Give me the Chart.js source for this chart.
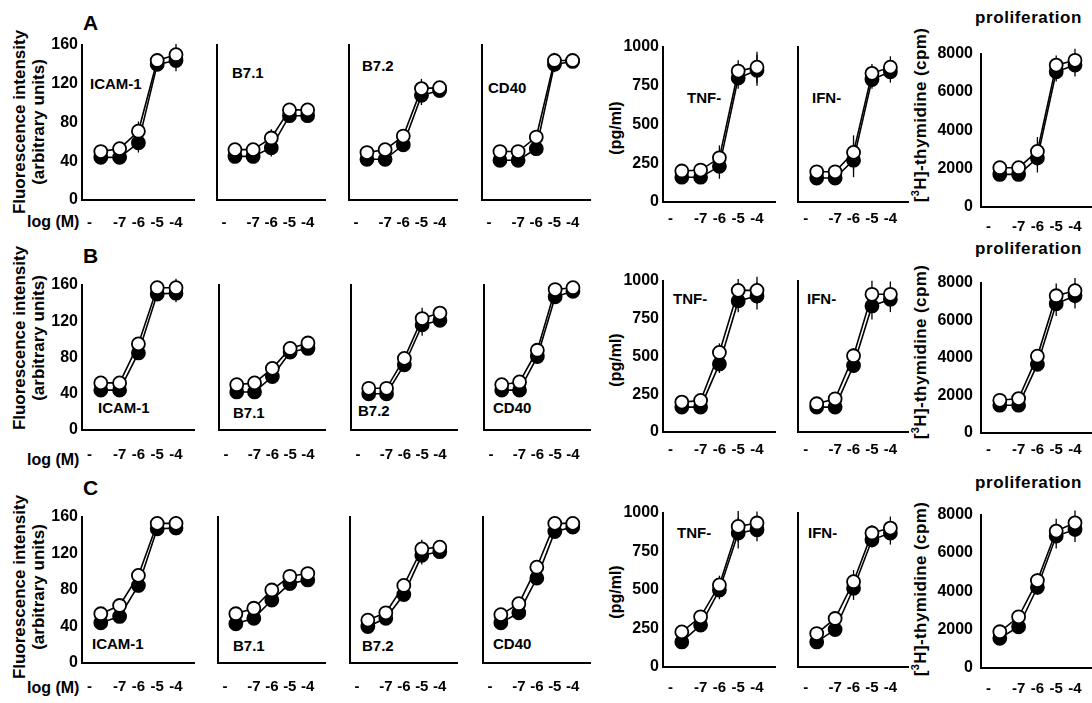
<!DOCTYPE html>
<html>
<head>
<meta charset="utf-8">
<script src="https://cdn.jsdelivr.net/npm/chart.js@4.4.1/dist/chart.umd.min.js"></script>
<style>
html, body { margin: 0; padding: 0; background: #fff; overflow: hidden; }
#fig { position: relative; width: 1092px; height: 703px; overflow: hidden; background: #fff;
       font-family: "Liberation Sans", Arial, Helvetica, sans-serif; font-weight: bold; color: #000; }
#fig canvas { position: absolute; }
.t { position: absolute; white-space: nowrap; line-height: 1; transform: translateY(-50%); }
.rot { position: absolute; white-space: nowrap; text-align: center; line-height: 19px;
       transform: translate(-50%, -50%) rotate(-90deg); }
</style>
</head>
<body>
<div id="fig"></div>
<script>
// Dose-response panels: 3 rows (A, B, C) x 7 readouts, open vs filled circles.
// x = log(M); the "-" (no compound) point sits at -8.

var X_DOSE = [-8, -7, -6, -5, -4];
var X_TICK_AT = [-8.6, -7, -6, -5, -4];
var X_TICK_TEXT = ["-", "-7", "-6", "-5", "-4"];

// ---- row A ----
var ICAM1_A_open = [50, 53, 71, 144, 150];
var ICAM1_A_closed = [44, 44, 59, 140, 144];
var ICAM1_A_err = [3, 3, 10, 5, 11];
var B71_A_open = [52, 52, 64, 93, 93];
var B71_A_closed = [45, 45, 54, 87, 87];
var B71_A_err = [3, 3, 9, 4, 3];
var B72_A_open = [49, 52, 66, 115, 116];
var B72_A_closed = [42, 42, 57, 108, 113];
var B72_A_err = [3, 3, 4, 10, 3];
var CD40_A_open = [50, 50, 65, 144, 144];
var CD40_A_closed = [41, 41, 53, 140, 143];
var CD40_A_err = [3, 3, 4, 8, 3];
var TNF_A_open = [200, 206, 285, 845, 870];
var TNF_A_closed = [160, 160, 230, 800, 850];
var TNF_A_err = [15, 15, 80, 70, 100];
var IFN_A_open = [195, 195, 320, 830, 870];
var IFN_A_closed = [155, 155, 270, 790, 840];
var IFN_A_err = [15, 15, 110, 60, 70];
var PROL_A_open = [2050, 2050, 2900, 7400, 7650];
var PROL_A_closed = [1700, 1700, 2550, 7050, 7400];
var PROL_A_err = [100, 100, 750, 500, 600];

// ---- row B ----
var ICAM1_B_open = [52, 52, 95, 157, 157];
var ICAM1_B_closed = [44, 44, 85, 150, 151];
var ICAM1_B_err = [3, 3, 4, 5, 10];
var B71_B_open = [50, 52, 68, 90, 96];
var B71_B_closed = [42, 42, 59, 86, 90];
var B71_B_err = [3, 3, 3, 3, 3];
var B72_B_open = [46, 46, 79, 123, 129];
var B72_B_closed = [40, 40, 72, 116, 121];
var B72_B_err = [3, 3, 3, 12, 4];
var CD40_B_open = [50, 53, 88, 155, 157];
var CD40_B_closed = [44, 44, 81, 147, 153];
var CD40_B_err = [3, 3, 3, 3, 3];
var TNF_B_open = [198, 209, 527, 938, 938];
var TNF_B_closed = [165, 165, 451, 868, 901];
var TNF_B_err = [15, 15, 60, 75, 90];
var IFN_B_open = [187, 220, 505, 912, 912];
var IFN_B_closed = [165, 165, 440, 835, 879];
var IFN_B_err = [15, 15, 50, 90, 85];
var PROL_B_open = [1740, 1830, 4090, 7300, 7570];
var PROL_B_closed = [1480, 1480, 3650, 6870, 7300];
var PROL_B_err = [100, 100, 300, 650, 680];

// ---- row C ----
var ICAM1_C_open = [54, 63, 96, 153, 153];
var ICAM1_C_closed = [44, 51, 85, 147, 148];
var ICAM1_C_err = [3, 3, 8, 4, 8];
var B71_C_open = [54, 60, 80, 95, 98];
var B71_C_closed = [43, 49, 69, 87, 91];
var B71_C_err = [3, 3, 3, 3, 3];
var B72_C_open = [47, 55, 85, 125, 127];
var B72_C_closed = [40, 49, 75, 118, 122];
var B72_C_err = [3, 3, 3, 10, 4];
var CD40_C_open = [53, 65, 105, 153, 153];
var CD40_C_closed = [44, 55, 93, 144, 149];
var CD40_C_err = [3, 3, 3, 3, 2];
var TNF_C_open = [228, 326, 533, 913, 935];
var TNF_C_closed = [163, 272, 500, 870, 891];
var TNF_C_err = [15, 15, 60, 100, 75];
var IFN_C_open = [217, 315, 554, 870, 902];
var IFN_C_closed = [163, 243, 511, 826, 870];
var IFN_C_err = [15, 15, 75, 50, 75];
var PROL_C_open = [1890, 2670, 4560, 7140, 7570];
var PROL_C_closed = [1550, 2150, 4210, 6880, 7220];
var PROL_C_err = [100, 100, 400, 650, 650];

// y ranges per readout group: surface markers, cytokines, proliferation
var GROUPS = {
  L: { max: 160, step: 40, pad: 4 },
  R: { max: 1000, step: 250, pad: 4 },
  P: { max: 8000, step: 2000, pad: 8 }
};
var COL_X = [82, 213, 345, 478, 663, 796, 981]; // y-axis line of each column
var PLOT_W = 112;
// [plot top, plot bottom (value 0), x tick padding] per row and group
var ROW_GEOM = {
  A: { L: [45, 200, 14], R: [47, 202, 8], P: [52, 207, 11] },
  B: { L: [285, 430, 16], R: [281, 432, 9], P: [281, 433, 8] },
  C: { L: [517, 663, 15], R: [513, 667, 12], P: [513, 668, 12] }
};
var FONT = "'Liberation Sans', Arial, Helvetica, sans-serif";

var fig = document.getElementById("fig");

function addText(cls, html, x, y, css) {
  var d = document.createElement("div");
  d.className = cls;
  d.innerHTML = html;
  d.style.left = x + "px";
  d.style.top = y + "px";
  if (css) d.style.cssText += css;
  fig.appendChild(d);
}

// whiskers drawn under the markers
var errorBars = {
  id: "errorBars",
  beforeDatasetsDraw: function (chart) {
    var ctx = chart.ctx, ys = chart.scales.y;
    ctx.save();
    ctx.strokeStyle = "#000";
    ctx.lineWidth = 1.3;
    chart.data.datasets.forEach(function (ds, i) {
      if (!ds.errors) return;
      chart.getDatasetMeta(i).data.forEach(function (pt, j) {
        var v = ds.data[j].y, e = ds.errors[j];
        ctx.beginPath();
        ctx.moveTo(pt.x, ys.getPixelForValue(v - e));
        ctx.lineTo(pt.x, ys.getPixelForValue(v + e));
        ctx.stroke();
      });
    });
    ctx.restore();
  }
};

function series(vals, fill, err) {
  return {
    data: X_DOSE.map(function (x, i) { return { x: x, y: vals[i] }; }),
    borderColor: "#000", borderWidth: 1.6, tension: 0,
    pointRadius: 6.5, pointBorderWidth: 1.8,
    pointBackgroundColor: fill, pointBorderColor: "#000",
    clip: false, errors: err
  };
}

function panel(row, col, group, open, closed, err, showY) {
  var g = ROW_GEOM[row][group], G = GROUPS[group];
  var top = g[0], bot = g[1];
  var yW = showY ? 60 : 6, padTop = 16, padRight = 10, xH = 36;
  var cv = document.createElement("canvas");
  cv.width = yW + PLOT_W + padRight;
  cv.height = padTop + (bot - top) + xH;
  cv.style.left = (COL_X[col] - yW) + "px";
  cv.style.top = (top - padTop) + "px";
  fig.appendChild(cv);
  new Chart(cv, {
    type: "line",
    data: { datasets: [series(open, "#fff", err), series(closed, "#000", err)] },
    options: {
      responsive: false, animation: false, devicePixelRatio: 1,
      layout: { padding: { top: padTop, right: padRight, left: 0, bottom: 0 } },
      plugins: { legend: { display: false }, tooltip: { enabled: false } },
      scales: {
        x: {
          type: "linear", min: -9, max: -9 + PLOT_W / 18.8,
          grid: { display: false, drawTicks: false },
          border: { display: true, color: "#000", width: 2 },
          afterBuildTicks: function (s) { s.ticks = X_TICK_AT.map(function (v) { return { value: v }; }); },
          ticks: {
            color: "#000", font: { family: FONT, weight: "bold", size: 15 },
            padding: g[2], autoSkip: false, maxRotation: 0, minRotation: 0,
            callback: function (v, i) { return X_TICK_TEXT[i]; }
          },
          afterFit: function (s) { s.height = xH; }
        },
        y: {
          min: 0, max: G.max,
          grid: { display: false, drawTicks: false },
          border: { display: true, color: "#000", width: 2 },
          ticks: {
            display: showY, stepSize: G.step, color: "#000", padding: G.pad,
            font: { family: FONT, weight: "bold", size: 16 },
            callback: function (v) { return String(v); }
          },
          afterFit: function (s) { s.width = yW; }
        }
      }
    },
    plugins: [errorBars]
  });
}

// ---- text ----
var ROWS = ["A", "B", "C"];
var LETTER_Y = { A: 22, B: 255, C: 487 };
var LOGM_Y = { A: 222, B: 460, C: 688 };
var PROLIF_Y = { A: 17, B: 248, C: 482 };
var FLUO_Y = { A: 122, B: 338, C: 587 };
var PGML_Y = { A: 128, B: 360, C: 592 };
var THY_Y = { A: 115, B: 352, C: 589 };
var NAMES = ["ICAM-1", "B7.1", "B7.2", "CD40", "TNF-", "IFN-"];
var NAME_POS = {
  A: [[90, 83], [232, 72], [362, 65], [488, 87], [687, 97], [812, 97]],
  B: [[98, 407], [233, 412], [358, 410], [493, 407], [673, 298], [807, 298]],
  C: [[92, 643], [233, 645], [362, 645], [493, 643], [677, 532], [808, 532]]
};

ROWS.forEach(function (r) {
  addText("t", r, 83, LETTER_Y[r], "font-size:21px;");
  addText("t", "log (M)", 27, LOGM_Y[r], "font-size:16px;");
  addText("t", "proliferation", 975, PROLIF_Y[r], "font-size:17px;letter-spacing:0.6px;");
  addText("rot", "Fluorescence intensity<br>(arbitrary units)", 29, FLUO_Y[r], "font-size:17px;");
  addText("rot", "(pg/ml)", 615, PGML_Y[r], "font-size:16px;");
  addText("rot", "[<sup style='font-size:11px;line-height:0'>3</sup>H]-thymidine (cpm)", 920, THY_Y[r], "font-size:17px;letter-spacing:0.4px;");
  NAMES.forEach(function (n, i) {
    addText("t", n, NAME_POS[r][i][0], NAME_POS[r][i][1], "font-size:15px;");
  });
});

// ---- panels ----
panel("A", 0, "L", ICAM1_A_open, ICAM1_A_closed, ICAM1_A_err, true);
panel("A", 1, "L", B71_A_open, B71_A_closed, B71_A_err, false);
panel("A", 2, "L", B72_A_open, B72_A_closed, B72_A_err, false);
panel("A", 3, "L", CD40_A_open, CD40_A_closed, CD40_A_err, false);
panel("A", 4, "R", TNF_A_open, TNF_A_closed, TNF_A_err, true);
panel("A", 5, "R", IFN_A_open, IFN_A_closed, IFN_A_err, false);
panel("A", 6, "P", PROL_A_open, PROL_A_closed, PROL_A_err, true);

panel("B", 0, "L", ICAM1_B_open, ICAM1_B_closed, ICAM1_B_err, true);
panel("B", 1, "L", B71_B_open, B71_B_closed, B71_B_err, false);
panel("B", 2, "L", B72_B_open, B72_B_closed, B72_B_err, false);
panel("B", 3, "L", CD40_B_open, CD40_B_closed, CD40_B_err, false);
panel("B", 4, "R", TNF_B_open, TNF_B_closed, TNF_B_err, true);
panel("B", 5, "R", IFN_B_open, IFN_B_closed, IFN_B_err, false);
panel("B", 6, "P", PROL_B_open, PROL_B_closed, PROL_B_err, true);

panel("C", 0, "L", ICAM1_C_open, ICAM1_C_closed, ICAM1_C_err, true);
panel("C", 1, "L", B71_C_open, B71_C_closed, B71_C_err, false);
panel("C", 2, "L", B72_C_open, B72_C_closed, B72_C_err, false);
panel("C", 3, "L", CD40_C_open, CD40_C_closed, CD40_C_err, false);
panel("C", 4, "R", TNF_C_open, TNF_C_closed, TNF_C_err, true);
panel("C", 5, "R", IFN_C_open, IFN_C_closed, IFN_C_err, false);
panel("C", 6, "P", PROL_C_open, PROL_C_closed, PROL_C_err, true);
</script>
</body>
</html>
